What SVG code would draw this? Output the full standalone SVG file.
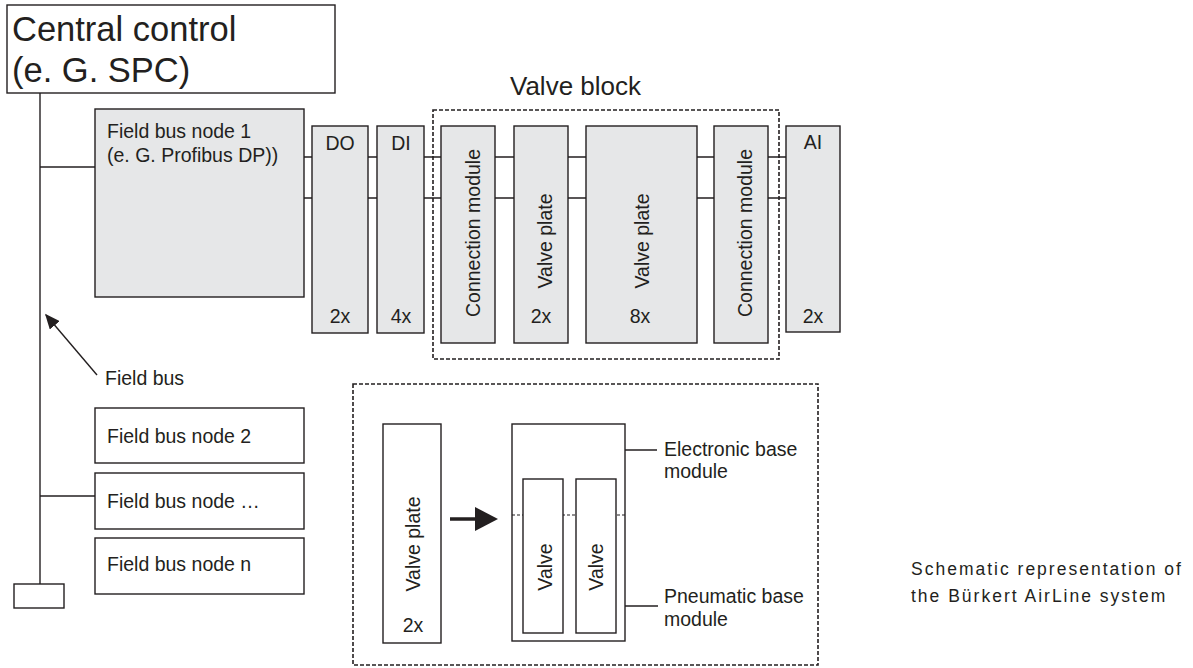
<svg xmlns="http://www.w3.org/2000/svg" width="1193" height="668" viewBox="0 0 1193 668">
<style>
text{font-family:"Liberation Sans",Arial,sans-serif;fill:#231f20;font-size:19.5px}
.box{fill:#e6e7e8;stroke:#231f20;stroke-width:1.4}
.wbox{fill:#fff;stroke:#231f20;stroke-width:1.4}
.ln{stroke:#231f20;stroke-width:1.4;fill:none}
.dash{fill:none;stroke:#231f20;stroke-width:1.6;stroke-dasharray:4 2}
.dot{fill:none;stroke:#231f20;stroke-width:1.2;stroke-dasharray:3 2}
.m{text-anchor:middle}
.cap{font-size:17.5px;letter-spacing:2px}
</style>
<defs>
<marker id="ah" viewBox="0 0 10 10" refX="9" refY="5" markerWidth="15" markerHeight="13" markerUnits="userSpaceOnUse" orient="auto" preserveAspectRatio="none"><path d="M0,0 L10,5 L0,10 z" fill="#231f20"/></marker>
</defs>
<rect width="1193" height="668" fill="#fff"/>
<g id="connectors">
<line class="ln" x1="40" y1="93" x2="40" y2="584"/>
<line class="ln" x1="40" y1="167" x2="95" y2="167"/>
<line class="ln" x1="40" y1="496" x2="95" y2="496"/>
<path class="ln" d="M304,157H312M304,198H312M368,157H377M368,198H377M424,157H441M424,198H441M495,157H514M495,198H514M568,157H586M568,198H586M697,157H714M697,198H714M768,157H786M768,198H786"/>
<line class="ln" x1="97" y1="375" x2="46" y2="315" marker-end="url(#ah)" stroke-width="1.8"/>
<line x1="450" y1="519" x2="478" y2="519" stroke="#231f20" stroke-width="3.5"/>
<path d="M475,507 L498,519 L475,531 z" fill="#231f20"/>
<line class="ln" x1="612" y1="450" x2="657" y2="450"/>
<line class="ln" x1="625" y1="606" x2="658" y2="606"/>
</g>
<g id="central-control">
<rect class="wbox" x="7" y="5" width="328" height="88"/>
<text x="12" y="41" style="font-size:34.5px">Central control</text>
<text x="12" y="82" style="font-size:34.5px">(e. G. SPC)</text>
</g>
<g id="terminator"><rect class="wbox" x="14" y="584" width="50" height="24"/></g>
<g id="fieldbus-label"><text x="105" y="385">Field bus</text></g>
<g id="node1">
<rect class="box" x="95" y="109" width="209" height="188"/>
<text x="107" y="138">Field bus node 1</text>
<text x="107" y="162">(e. G. Profibus DP))</text>
</g>
<g id="do">
<rect class="box" x="312" y="126" width="56" height="207"/>
<text class="m" x="340" y="150">DO</text>
<text class="m" x="340" y="323">2x</text>
</g>
<g id="di">
<rect class="box" x="377" y="126" width="47" height="207"/>
<text class="m" x="401" y="150">DI</text>
<text class="m" x="401" y="323">4x</text>
</g>
<g id="valve-block">
<rect class="dash" x="433" y="110" width="346" height="249"/>
<text x="510" y="95" style="font-size:26px">Valve block</text>
</g>
<g id="conn1">
<rect class="box" x="441" y="126" width="54" height="217"/>
<text class="m" transform="translate(480,233) rotate(-90)">Connection module</text>
</g>
<g id="vp2">
<rect class="box" x="514" y="126" width="54" height="217"/>
<text class="m" transform="translate(552,241) rotate(-90)">Valve plate</text>
<text class="m" x="541" y="323">2x</text>
</g>
<g id="vp8">
<rect class="box" x="586" y="126" width="111" height="217"/>
<text class="m" transform="translate(649,241) rotate(-90)">Valve plate</text>
<text class="m" x="640" y="323">8x</text>
</g>
<g id="conn2">
<rect class="box" x="714" y="126" width="54" height="217"/>
<text class="m" transform="translate(752,233) rotate(-90)">Connection module</text>
</g>
<g id="ai">
<rect class="box" x="786" y="126" width="54" height="206"/>
<text class="m" x="813" y="149">AI</text>
<text class="m" x="813" y="323">2x</text>
</g>
<g id="node2"><rect class="wbox" x="95" y="408" width="209" height="55"/><text x="107" y="443">Field bus node 2</text></g>
<g id="node3"><rect class="wbox" x="95" y="473" width="209" height="56"/><text x="107" y="508">Field bus node …</text></g>
<g id="noden"><rect class="wbox" x="95" y="538" width="209" height="56"/><text x="107" y="571">Field bus node n</text></g>
<g id="detail">
<rect class="dash" x="353" y="384" width="465" height="281"/>
</g>
<g id="vp-detail">
<rect class="wbox" x="383" y="424" width="58" height="219"/>
<text class="m" transform="translate(420,544) rotate(-90)">Valve plate</text>
<text class="m" x="413" y="632">2x</text>
</g>
<g id="base-module">
<rect class="wbox" x="512" y="424" width="113" height="217"/>
<line class="dot" x1="512" y1="515" x2="625" y2="515"/>
</g>
<g id="valve1"><rect class="wbox" x="523" y="479" width="40" height="154"/><text class="m" transform="translate(552,567) rotate(-90)">Valve</text></g>
<g id="valve2"><rect class="wbox" x="576" y="479" width="40" height="154"/><text class="m" transform="translate(603,567) rotate(-90)">Valve</text></g>
<g id="labels">
<text x="664" y="456">Electronic base</text>
<text x="664" y="478">module</text>
<text x="664" y="603">Pneumatic base</text>
<text x="664" y="626">module</text>
<text class="cap" x="911" y="575">Schematic representation of</text>
<text class="cap" x="911" y="602">the Bürkert AirLine system</text>
</g>
</svg>
